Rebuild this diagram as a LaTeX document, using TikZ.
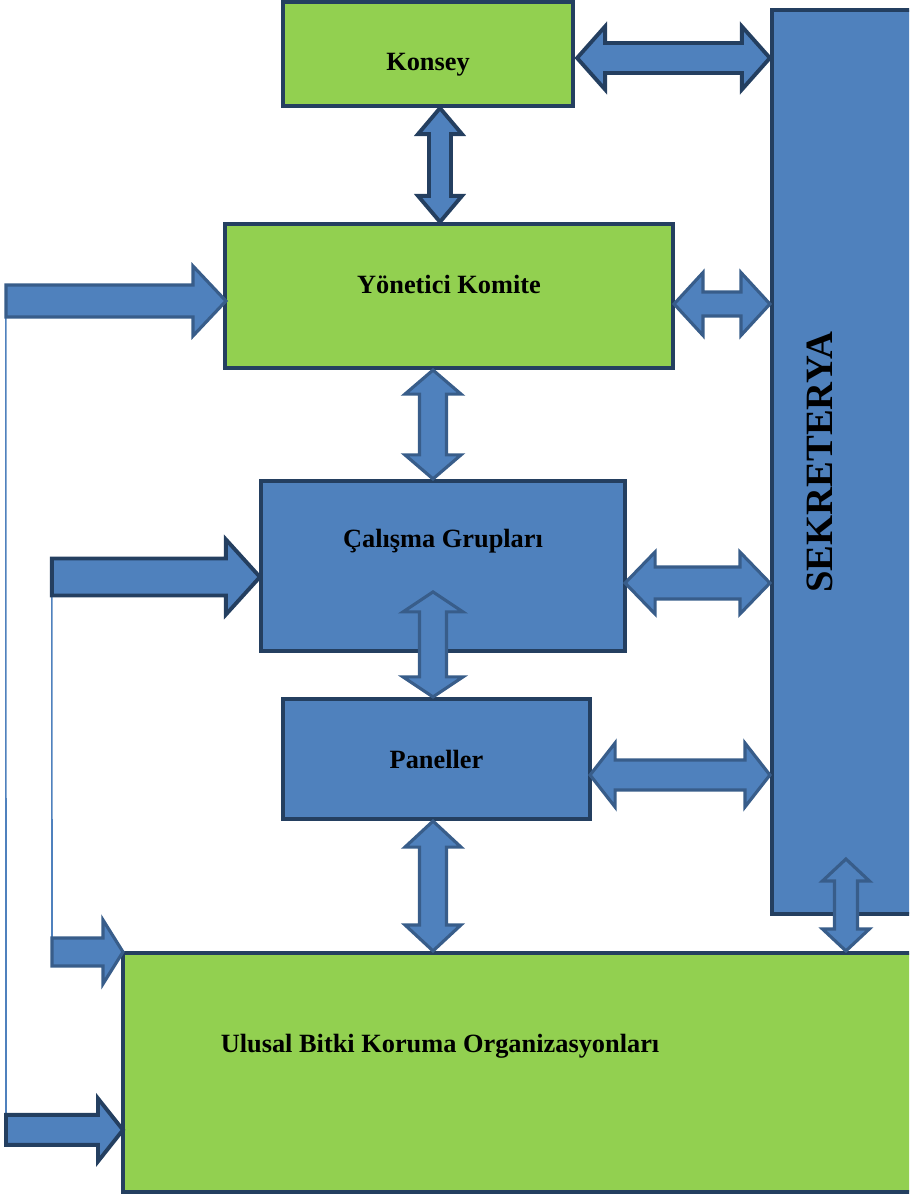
\documentclass[tikz,border=0pt]{standalone}
\usepackage{fontspec}
\setmainfont{Liberation Serif}
\usetikzlibrary{calc}
\definecolor{boxgreen}{HTML}{92D050}
\definecolor{boxblue}{HTML}{4F81BD}
\definecolor{boxline}{HTML}{243F60}
\definecolor{arrline}{HTML}{385D8A}
% block arrows: style, tip 1, tip 2, half shaft, half head, head length
\newcommand{\dblh}[6]{\draw[#1] (#2) -- ($(#2)+(#6,-#5)$) -- ($(#2)+(#6,-#4)$) -- ($(#3)+(-#6,-#4)$) -- ($(#3)+(-#6,-#5)$) -- (#3) -- ($(#3)+(-#6,#5)$) -- ($(#3)+(-#6,#4)$) -- ($(#2)+(#6,#4)$) -- ($(#2)+(#6,#5)$) -- cycle;}
\newcommand{\dblv}[6]{\draw[#1] (#2) -- ($(#2)+(#5,#6)$) -- ($(#2)+(#4,#6)$) -- ($(#3)+(#4,-#6)$) -- ($(#3)+(#5,-#6)$) -- (#3) -- ($(#3)+(-#5,-#6)$) -- ($(#3)+(-#4,-#6)$) -- ($(#2)+(-#4,#6)$) -- ($(#2)+(-#5,#6)$) -- cycle;}
\newcommand{\sglh}[6]{\draw[#1] ($(#2)+(0,-#4)$) -- ($(#3)+(-#6,-#4)$) -- ($(#3)+(-#6,-#5)$) -- (#3) -- ($(#3)+(-#6,#5)$) -- ($(#3)+(-#6,#4)$) -- ($(#2)+(0,#4)$) -- cycle;}
\begin{document}
\begin{tikzpicture}
	[x=0.02cm,y=-0.02cm,
	greenbox/.style={rectangle,draw=boxline,fill=boxgreen,line width=2.4pt,inner sep=0pt},
	bluebox/.style={rectangle,draw=boxline,fill=boxblue,line width=2.4pt,inner sep=0pt},
	boxtext/.style={font=\bfseries\fontsize{15}{18}\selectfont},
	darkarr/.style={draw=boxline,fill=boxblue,line width=2.2pt},
	midarr/.style={draw=arrline,fill=boxblue,line width=1.8pt},
	feed/.style={draw=boxblue,line width=0.9pt}]
	\useasboundingbox (0,0) rectangle (909,1195);
	\clip (0,0) rectangle (909,1195);
	\node[greenbox,name=kon,minimum width=5.8cm,minimum height=2.08cm,label={[boxtext,yshift=-0.22cm]center:Konsey}] at (428,54) {};
	\node[greenbox,name=yon,minimum width=8.96cm,minimum height=2.88cm,label={[boxtext,yshift=0.24cm]center:Yönetici Komite}] at (449,296) {};
	\node[bluebox,name=cal,minimum width=7.28cm,minimum height=3.4cm,label={[boxtext,yshift=0.5cm]center:Çalışma Grupları}] at (443,566) {};
	\node[bluebox,name=pan,minimum width=6.14cm,minimum height=2.4cm,label={[boxtext]center:Paneller}] at (436.5,759) {};
	\node[bluebox,name=sek,minimum width=3.76cm,minimum height=18.08cm,label={[font=\bfseries\fontsize{22}{26}\selectfont,xshift=-0.92cm,rotate=90]center:SEKRETERYA}] at (866,462) {};
	\node[greenbox,name=ubk,minimum width=16.74cm,minimum height=4.78cm,label={[boxtext,xshift=-2.03cm,yshift=0.53cm]center:Ulusal Bitki Koruma Organizasyonları}] at (541.5,1072.5) {};
	% end points
	\coordinate (ks1) at ($(kon.east)+(2,4)$);
	\coordinate (ks2) at (sek.west |- ks1);
	\coordinate (ky1) at ($(kon.south)+(12,0)$);
	\coordinate (ky2) at (ky1 |- yon.north);
	\coordinate (ys1) at ($(yon.east)+(-1,8)$);
	\coordinate (ys2) at (sek.west |- ys1);
	\coordinate (yc1) at ($(yon.south)+(-16,0)$);
	\coordinate (yc2) at (yc1 |- cal.north);
	\coordinate (cs1) at ($(cal.east)+(-2,17)$);
	\coordinate (cs2) at (sek.west |- cs1);
	\coordinate (cp2) at ($(pan.north)+(-3.5,0)$);
	\coordinate (cp1) at ($(cp2)+(0,-105)$);
	\coordinate (ps1) at ($(pan.east)+(-2,16)$);
	\coordinate (ps2) at (sek.west |- ps1);
	\coordinate (pu1) at ($(pan.south)+(-3.5,0)$);
	\coordinate (pu2) at (pu1 |- ubk.north);
	\coordinate (su2) at ($(sek.south west)+(76,0)$);
	\coordinate (su1) at ($(su2)+(0,-57)$);
	\coordinate (su3) at (su2 |- ubk.north);
	\coordinate (t1) at ($(yon.west)+(3,5)$);
	\coordinate (s1) at ($(t1)+(-220,0)$);
	\coordinate (t2) at ($(cal.west)+(1,11)$);
	\coordinate (s2) at ($(t2)+(-208,0)$);
	\coordinate (t3) at ($(ubk.north west)+(2,1)$);
	\coordinate (s3) at ($(t3)+(-71,0)$);
	\coordinate (t4) at ($(ubk.north west)+(2,179)$);
	\coordinate (s4) at ($(t4)+(-117,0)$);
	\draw[feed] ($(s1)+(0,16)$) -- ($(s4)+(0,-15)$);
	\draw[feed] ($(s2)+(0,18.5)$) -- ($(s3)+(0,-14)$);
	\dblh{darkarr}{ks1}{ks2}{15}{31.5}{28}
	\dblv{darkarr}{ky1}{ky2}{11}{22}{26}
	\dblh{midarr}{ys1}{ys2}{12}{31.5}{29}
	\dblv{midarr}{yc1}{yc2}{13.5}{28}{24}
	\dblh{midarr}{cs1}{cs2}{16}{31}{30}
	\dblv{midarr}{cp1}{cp2}{13.5}{30}{20}
	\dblh{midarr}{ps1}{ps2}{15}{32}{25}
	\dblv{midarr}{pu1}{pu2}{13.5}{28}{26}
	\dblv{midarr}{su1}{su3}{11.5}{23.5}{22}
	\sglh{midarr}{s1}{t1}{16}{35}{33}
	\sglh{darkarr}{s2}{t2}{18.5}{37.5}{34}
	\sglh{midarr}{s3}{t3}{14}{32}{20}
	\sglh{darkarr}{s4}{t4}{15}{31.5}{25}
\end{tikzpicture}
\end{document}
